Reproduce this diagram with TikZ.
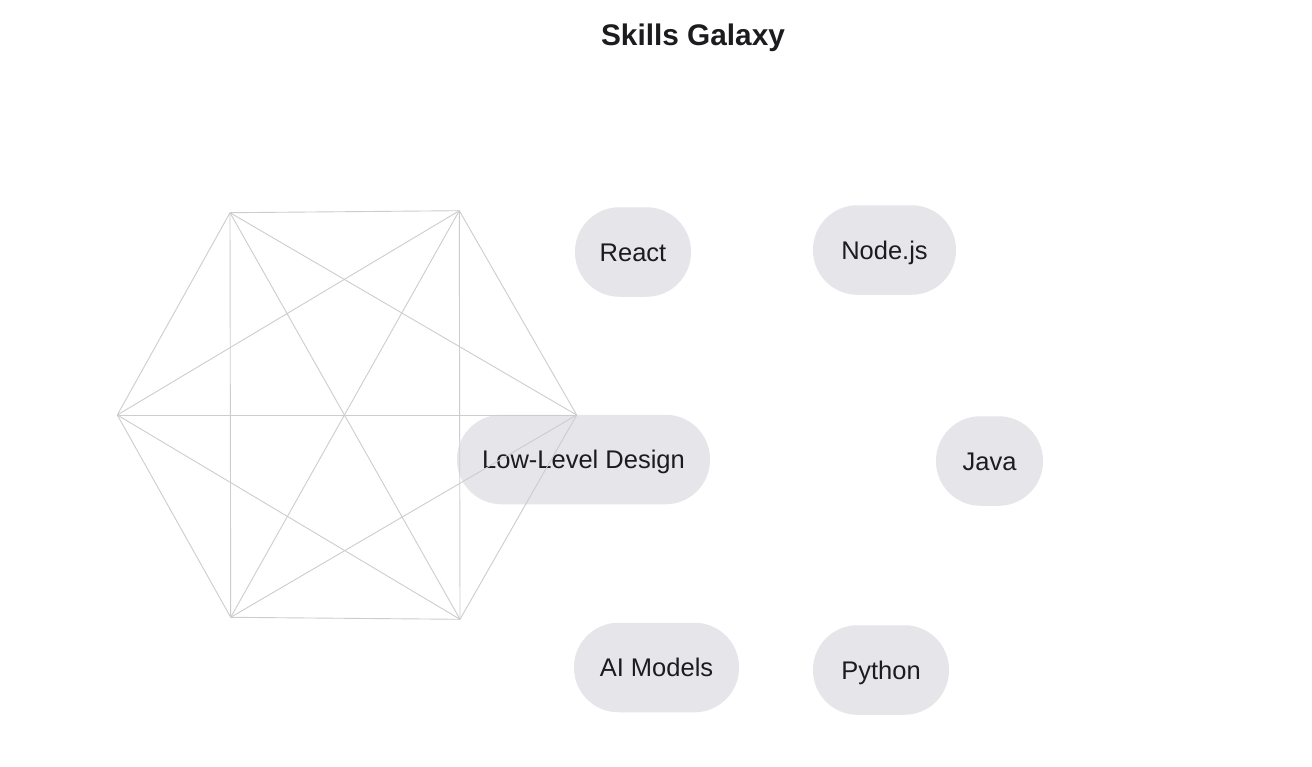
\documentclass[tikz,border=0pt]{standalone}
\usepackage{fontspec}
\setmainfont{Liberation Sans}
\definecolor{pillfill}{HTML}{E5E5EA}
\definecolor{edgecol}{HTML}{CDCDD0}
\definecolor{ink}{HTML}{1C1C1E}
\begin{document}
\begin{tikzpicture}[x=1pt,y=-1pt,
  pill/.style={fill=pillfill, draw=none, rounded corners=44.5pt, minimum height=89.5pt, inner sep=0pt, text=ink, text height=18.3pt, text depth=0pt, font=\fontsize{25.5}{30}\selectfont},
  edge/.style={draw=edgecol, line width=0.9pt}]
\useasboundingbox (0,0) rectangle (1312,766);
\fill[white] (0,0) rectangle (1312,766);
\node[font=\fontsize{29.8}{34}\selectfont\bfseries, text=ink, text height=21.3pt, text depth=0pt, inner sep=0pt] (title) at (693,35) {Skills Galaxy};
% pills
\node[pill, minimum width=116pt] (react) at (633,252) {React};
\node[pill, minimum width=143pt] (node) at (884.5,250) {Node.js};
\node[pill, minimum width=253pt] (lld) at (583.5,459.5) {Low-Level Design};
\node[pill, minimum width=107pt] (java) at (989.5,461) {Java};
\node[pill, minimum width=165pt] (ai) at (656.5,667.5) {AI Models};
\node[pill, minimum width=136pt] (py) at (881,670) {Python};
% hexagon vertices
\coordinate (v1) at (230,212.7);
\coordinate (v2) at (459.3,210.7);
\coordinate (v3) at (576.7,415);
\coordinate (v4) at (460,619.3);
\coordinate (v5) at (230.7,617.3);
\coordinate (v6) at (117.3,415);
\foreach \i in {1,...,5}{
  \pgfmathtruncatemacro{\s}{\i+1}
  \foreach \j in {\s,...,6}{
    \draw[edge] (v\i) -- (v\j);
  }
}
\end{tikzpicture}
\end{document}
